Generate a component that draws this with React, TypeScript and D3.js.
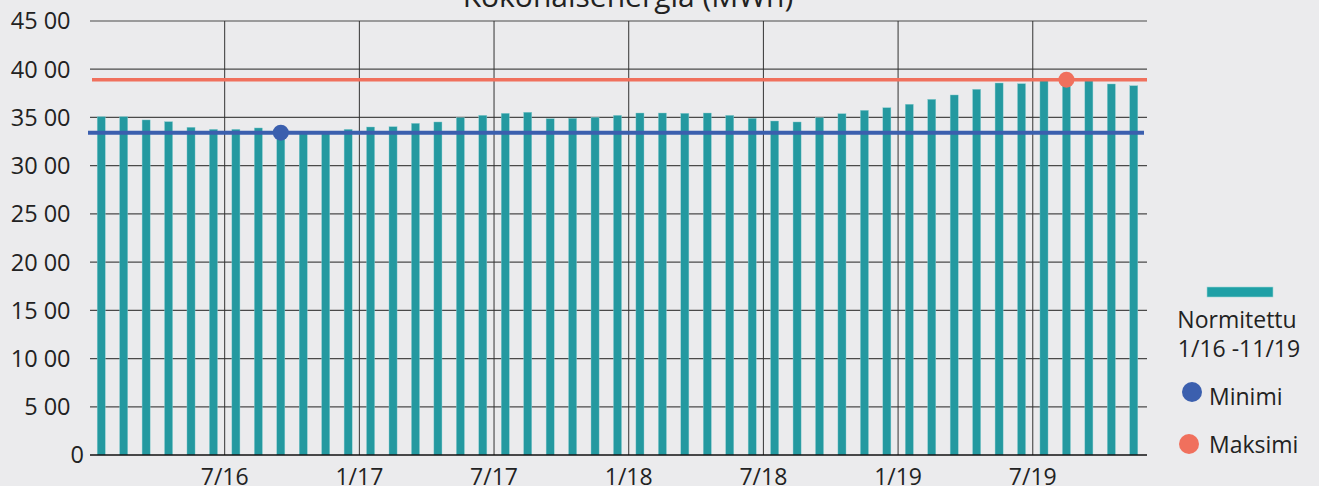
import React from 'react';
import * as d3 from 'd3';

// months 1/16 .. 11/19
const months = [
  '1/16', '2/16', '3/16', '4/16', '5/16', '6/16', '7/16', '8/16', '9/16', '10/16', '11/16', '12/16',
  '1/17', '2/17', '3/17', '4/17', '5/17', '6/17', '7/17', '8/17', '9/17', '10/17', '11/17', '12/17',
  '1/18', '2/18', '3/18', '4/18', '5/18', '6/18', '7/18', '8/18', '9/18', '10/18', '11/18', '12/18',
  '1/19', '2/19', '3/19', '4/19', '5/19', '6/19', '7/19', '8/19', '9/19', '10/19', '11/19',
];

// normitettu kokonaisenergia (MWh)
const energy = [
  35080, 35080, 34740, 34560, 33980, 33770, 33770, 33910, 33420, 33450, 33460, 33770,
  34010, 34040, 34390, 34530, 34980, 35220, 35430, 35540, 34870, 34910, 35020, 35220,
  35460, 35460, 35430, 35460, 35220, 34910, 34630, 34530, 34980, 35390, 35740, 36010,
  36370, 36880, 37330, 37920, 38570, 38500, 38880, 38915, 38830, 38470, 38290,
];

const yTicks = [0, 5000, 10000, 15000, 20000, 25000, 30000, 35000, 40000, 45000];
const yTickLabels = ['0', '5 000', '10 000', '15 000', '20 000', '25 000', '30 000', '35 000', '40 000', '45 000'];
const xTickMonths = ['7/16', '1/17', '7/17', '1/18', '7/18', '1/19', '7/19'];

const title = 'Kokonaisenergia (MWh)';
const legendLabels = ['Normitettu', '1/16 -11/19', 'Minimi', 'Maksimi'];

const W = 1319;
const H = 486;
const BG = '#ebebed';
const TEAL = '#2499a0';
const BLUE = '#3b5fae';
const RED = '#f0705d';
const FONT = '"Open Sans", sans-serif';

export default function App() {
  const x = d3.scaleBand<string>()
    .domain(months)
    .range([90, 1145])
    .paddingInner(0.64)
    .paddingOuter(0.32);
  const y = d3.scaleLinear().domain([0, 45000]).range([455, 21]);

  const slotStart = (m: string) => (x(m) as number) - (x.step() - x.bandwidth()) / 2;

  const minVal = d3.min(energy) as number;
  const maxVal = d3.max(energy) as number;
  const minIdx = energy.indexOf(minVal);
  const maxIdx = energy.indexOf(maxVal);
  const cx = (i: number) => (x(months[i]) as number) + x.bandwidth() / 2;

  return (
    <svg width={W} height={H} style={{ position: 'absolute', left: 0, top: 0 }} fontFamily={FONT}>
      <defs>
        <clipPath id="ylab">
          <rect x={0} y={0} width={71} height={H} />
        </clipPath>
      </defs>
      <rect width={W} height={H} fill={BG} />

      <text x={628} y={7} textAnchor="middle" fontSize={30} fill="#222">{title}</text>

      {/* horizontal grid */}
      {yTicks.filter(t => t > 0).map(t => (
        <line key={t} x1={90} x2={1147} y1={y(t)} y2={y(t)} stroke="#4a4a4a" strokeWidth={1.2} />
      ))}
      {/* vertical grid */}
      {xTickMonths.map(m => (
        <line key={m} x1={slotStart(m)} x2={slotStart(m)} y1={y(45000)} y2={y(0)} stroke="#333" strokeWidth={1} />
      ))}

      {/* bars */}
      {energy.map((v, i) => (
        <rect key={months[i]} x={x(months[i])} y={y(v)} width={x.bandwidth()} height={y(0) - y(v)}
          fill={TEAL} stroke="#8fcfd2" strokeWidth={0.4} />
      ))}

      {/* baseline */}
      <line x1={90} x2={1147} y1={y(0)} y2={y(0)} stroke="#111" strokeWidth={1.3} />

      {/* min & max lines */}
      <line x1={88} x2={1144} y1={y(minVal)} y2={y(minVal)} stroke={BLUE} strokeWidth={4} />
      <line x1={92} x2={1147} y1={y(maxVal)} y2={y(maxVal)} stroke={RED} strokeWidth={3.6} />
      <circle cx={cx(minIdx)} cy={y(minVal)} r={8} fill={BLUE} />
      <circle cx={cx(maxIdx)} cy={y(maxVal)} r={8} fill={RED} />

      {/* y axis labels */}
      {yTicks.map((t, i) => (
        <text key={t} x={84} y={y(t)} dy="0.36em" textAnchor="end" fontSize={23.5} fill="#222"
          clipPath={t > 0 ? 'url(#ylab)' : undefined}>{yTickLabels[i]}</text>
      ))}

      {/* x axis labels */}
      {xTickMonths.map(m => (
        <text key={m} x={slotStart(m)} y={485} textAnchor="middle" fontSize={23} fill="#222">{m}</text>
      ))}

      {/* legend */}
      <rect x={1207} y={287} width={66} height={10} fill="#1fa0a6" stroke="#9fd6d8" strokeWidth={0.6} />
      <text x={1237} y={328} textAnchor="middle" fontSize={23} fill="#222">{legendLabels[0]}</text>
      <text x={1239} y={357} textAnchor="middle" fontSize={23} fill="#222">{legendLabels[1]}</text>
      <circle cx={1192} cy={392} r={10} fill={BLUE} />
      <text x={1209} y={405} fontSize={23} fill="#222">{legendLabels[2]}</text>
      <circle cx={1189} cy={444} r={10} fill={RED} />
      <text x={1209} y={453} fontSize={23} fill="#222">{legendLabels[3]}</text>
    </svg>
  );
}
